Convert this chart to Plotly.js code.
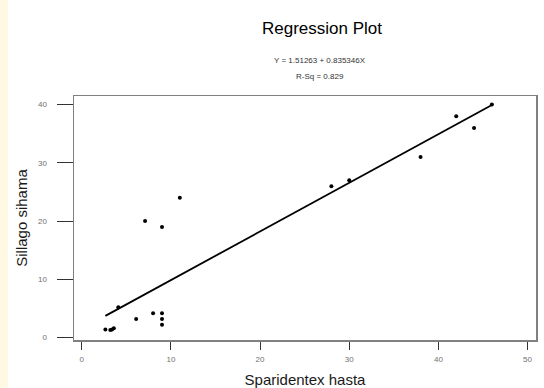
<!DOCTYPE html>
<html>
<head>
<meta charset="utf-8">
<script src="https://cdn.plot.ly/plotly-3.0.1.min.js"></script>
<style>
  html, body { margin: 0; padding: 0; background: #FFF9E3; width: 544px; height: 388px; overflow: hidden; }
  #chart { position: absolute; left: 8px; top: 0; width: 536px; height: 388px; background: #fff; }
</style>
</head>
<body>
<div id="chart"></div>
<script>
const sparidentexHasta = [2.65, 3.2, 3.4, 3.6, 4.1, 6.1, 7.1, 8.0, 9.0, 9.0, 9.0, 9.0, 11.0, 28.0, 30.0, 38.0, 42.0, 44.0, 46.0];
const sillagoSihama    = [1.4, 1.3, 1.4, 1.6, 5.2, 3.2, 20.0, 4.2, 4.2, 3.2, 2.2, 19.0, 24.0, 26.0, 27.0, 31.0, 38.0, 36.0, 40.0];

// Fitted regression line end points
const fitX = [2.65, 46.0];
const fitY = [3.73, 39.94];

// Tick values / labels
const xTicks = [0, 10, 20, 30, 40, 50];
const yTicks = [0, 10, 20, 30, 40];

const titleText = "Regression Plot";
const eqText = "Y = 1.51263 + 0.835346X";
const rsqText = "R-Sq = 0.829";

const traces = [
  {
    x: fitX, y: fitY, type: "scatter", mode: "lines",
    line: { color: "#000", width: 1.8 }, hoverinfo: "skip"
  },
  {
    x: sparidentexHasta, y: sillagoSihama, type: "scatter", mode: "markers",
    marker: { color: "#000", size: 4 }
  }
];

const layout = {
  width: 536, height: 388,
  margin: { l: 66, r: 8, t: 96, b: 48 },
  paper_bgcolor: "#fff", plot_bgcolor: "#fff",
  showlegend: false,
  font: { family: "Arial, Liberation Sans, sans-serif", color: "#000" },
  xaxis: {
    range: [-0.87, 50.95], tickvals: xTicks, ticktext: xTicks.map(String),
    showgrid: false, zeroline: false,
    showline: true, mirror: true, linecolor: "#808080", linewidth: 1.5,
    ticks: "outside", ticklen: 8, tickwidth: 1, tickcolor: "#333",
    tickfont: { size: 8, color: "#6f6f6f" }, ticklabelstandoff: 3,
    title: { text: "Sparidentex hasta", font: { size: 15, color: "#1a1a1a" }, standoff: 14 }
  },
  yaxis: {
    range: [-0.41, 41.48], tickvals: yTicks, ticktext: yTicks.map(String),
    showgrid: false, zeroline: false,
    showline: true, mirror: true, linecolor: "#808080", linewidth: 1.5,
    ticks: "outside", ticklen: 16, tickwidth: 1, tickcolor: "#333",
    tickfont: { size: 8, color: "#6f6f6f" }, ticklabelstandoff: 8,
    title: { text: "Sillago sihama", font: { size: 15, color: "#1a1a1a" }, standoff: 6 }
  },
  annotations: [
    { text: titleText, xref: "paper", yref: "paper", x: 0.537, y: 1, yshift: 68,
      showarrow: false, font: { size: 17, color: "#000" }, xanchor: "center", yanchor: "middle" },
    { text: eqText, xref: "paper", yref: "paper", x: 0.533, y: 1, yshift: 36,
      showarrow: false, font: { size: 8, color: "#333" }, xanchor: "center", yanchor: "middle" },
    { text: rsqText, xref: "paper", yref: "paper", x: 0.533, y: 1, yshift: 20,
      showarrow: false, font: { size: 8, color: "#333" }, xanchor: "center", yanchor: "middle" }
  ]
};

Plotly.newPlot("chart", traces, layout, { displayModeBar: false, staticPlot: true });
</script>
</body>
</html>
